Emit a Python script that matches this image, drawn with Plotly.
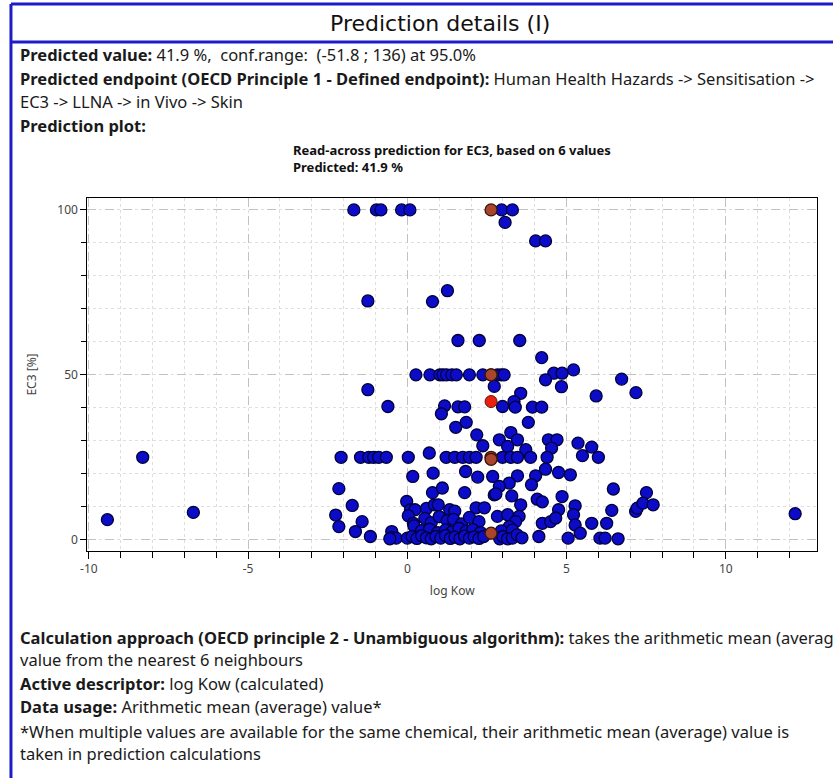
import plotly.graph_objects as go

# ---- data -------------------------------------------------------------
# training-set chemicals: log Kow (calculated) and EC3 [%]
log_kow = [
    # EC3 = 100 and high values
    -1.68, -0.97, -0.83, -0.18, 0.08, 2.96, 3.30, 3.07, 4.03, 4.34,
    # 55 - 75
    -1.24, 0.79, 1.26, 1.59, 2.26, 3.53, 4.22,
    # around 50
    0.27, 0.71, 1.02, 1.12, 1.23, 1.40, 1.54, 1.95, 2.37, 2.83, 2.95, 3.04, 4.60, 4.86, 5.22,
    # 40 - 49
    4.34, 4.84, 6.73, 7.18, 5.93, 2.73, 3.56, -1.24, -0.61,
    1.17, 1.07, 1.59, 1.80, 3.35, 2.99, 3.39, 3.93, 4.22,
    # 27 - 37
    1.52, 1.85, 2.18, 2.37, 3.80, 3.25, 2.89, 3.46, 3.15, 3.72, 4.43, 4.70, 4.53, 5.36, 5.79,
    # around 25
    -8.31, -2.08, -1.47, -1.21, -1.06, -0.90, -0.66, 0.03, 0.69, 1.22, 1.49, 1.74, 1.95, 2.16,
    2.99, 3.25, 3.46, 3.87, 4.39, 5.50, 6.00,
    # 17 - 22
    0.17, 0.81, 1.83, 2.21, 2.68, 3.46, 4.03, 4.34, 4.75, 5.12, 3.20,
    # 13 - 17
    -2.15, 0.79, 1.10, 1.80, 2.73, 2.89, 3.90, 3.28, 2.78, 4.86, 6.47, 7.51,
    # 8 - 12
    -9.42, -6.72, -1.73, -0.02, 0.10, 0.24, 0.60, 0.85, 0.97, 1.33, 1.49, 2.16, 2.42, 3.56,
    4.08, 4.24, 5.27, 4.75, 6.42, 7.17, 7.22, 7.40, 7.72, 12.18,
    # 4 - 8
    -2.25, -1.42, -2.15, 0.03, 0.19, 0.21, 0.55, 0.75, 1.00, 1.25, 1.45, 1.70, 1.95, 2.25,
    2.83, 3.15, 3.51, 3.40, 5.22, 4.24, 4.50, 4.66, 5.79, 6.26, 3.20, 5.27,
    # 2 - 4
    -1.63, -0.49, 0.45, 0.70, 0.95, 1.20, 1.40, 1.62, 1.85, 2.05, 2.30, 2.95, 3.30, 5.43,
    # 0 - 2
    -1.16, -0.49, -0.35, -0.55, 0.00, 0.15, 0.30, 0.45, 0.60, 0.75, 0.90, 1.05, 1.20, 1.35,
    1.50, 1.65, 1.80, 1.95, 2.10, 2.25, 2.40, 2.90, 3.00, 3.15, 3.30, 3.45, 3.60,
    4.13, 5.05, 6.05, 6.21, 6.62,
]
ec3 = [
    100, 100, 100, 100, 100, 100, 100, 96.2, 90.6, 90.6,
    72.4, 72.2, 75.5, 60.4, 60.4, 60.4, 55.2,
    50, 50, 50, 50, 50, 50, 50, 50, 50, 50, 50, 50, 50.5, 50.5, 51.5,
    48.5, 46.4, 48.7, 44.6, 43.6, 46.5, 44.4, 45.5, 40.4,
    40.6, 38.2, 40.3, 40.3, 41.9, 40.4, 40.2, 40.2, 40.2,
    34.1, 35.6, 31.8, 28.5, 35.6, 32.5, 30.3, 30.3, 28.3, 27.3, 30.3, 30.3, 27.8, 29.3, 28.1,
    25, 25, 25, 25, 25, 25, 25, 25, 26.3, 25, 25, 25, 25, 25,
    25, 25, 25, 25, 25, 25.5, 25,
    19.2, 20.2, 20.7, 19.0, 19.2, 19.4, 19.4, 21.4, 20.4, 19.7, 17.2,
    15.5, 14.3, 15.7, 14.3, 13.6, 16.2, 16.7, 13.3, 13.9, 13.1, 15.4, 14.3,
    6.1, 8.3, 10.4, 11.6, 9.1, 9.1, 9.5, 10.6, 10.6, 9.1, 8.7, 9.7, 9.7, 10.6,
    12.3, 11.5, 10.3, 9.1, 8.9, 8.6, 9.6, 11.1, 10.6, 7.9,
    7.5, 5.5, 4.0, 7.3, 5.0, 4.2, 6.5, 5.2, 7.0, 5.8, 6.2, 4.8, 6.8, 5.5,
    7.1, 7.6, 7.1, 5.5, 7.6, 5.0, 5.5, 6.6, 5.0, 5.0, 4.0, 4.5,
    2.5, 2.5, 2.8, 3.2, 2.2, 3.0, 2.4, 3.5, 2.6, 3.1, 2.2, 2.7, 3.0, 2.0,
    1.0, 0.7, 0.5, 0.3, 0.5, 1.0, 0.4, 1.2, 0.6, 0.3, 1.0, 0.5, 1.3, 0.4,
    0.8, 0.3, 1.1, 0.5, 0.9, 0.4, 1.0, 0.3, 1.0, 0.3, 0.5, 1.5, 0.6,
    1.0, 0.5, 0.5, 0.5, 0.3,
]

# the 6 nearest neighbours of the target chemical
neigh_log_kow = [2.63, 2.63, 2.63, 2.63, 2.63, 2.63]
neigh_ec3 = [100, 50, 50, 25, 24.4, 2.0]

# target chemical and its read-across prediction
target_log_kow = 2.63
predicted = 41.9
conf_low, conf_high, conf_level = -51.8, 136, 95.0

x_ticks = [-10, -5, 0, 5, 10]
y_ticks = [0, 50, 100]

# ---- page geometry (pixels) --------------------------------------------
W, H = 833, 778
PLOT_L, PLOT_R, PLOT_T, PLOT_B = 81, 817, 198, 551


def px(x):
    return x / W


def py(y):
    return 1 - y / H


BLUE_BORDER = "#1c1cc8"
HEAD_FONT = "DejaVu Sans, sans-serif"
TXT_FONT = "Noto Sans, DejaVu Sans, sans-serif"
CH_FONT = "Noto Sans, DejaVu Sans, sans-serif"

fig = go.Figure()

fig.add_trace(go.Scatter(
    x=log_kow, y=ec3, mode="markers",
    marker=dict(size=12, color="#0c0cc8",
                line=dict(color="#00003c", width=1.3)),
    hoverinfo="x+y", showlegend=False,
))
fig.add_trace(go.Scatter(
    x=neigh_log_kow, y=neigh_ec3, mode="markers",
    marker=dict(size=12, color="#a8452c", line=dict(color="#3a1408", width=1.3)),
    showlegend=False,
))
fig.add_trace(go.Scatter(
    x=[target_log_kow], y=[predicted], mode="markers",
    marker=dict(size=12, color="#e8200e", line=dict(color="#6a1005", width=1)),
    showlegend=False,
))

grid_major = "#c2c2c2"
grid_minor = "#dedede"

fig.update_xaxes(
    domain=[px(PLOT_L), px(PLOT_R)], range=[-10.05, 12.87],
    tickvals=x_ticks, ticktext=[str(v) for v in x_ticks],
    ticks="outside", ticklen=7, tickwidth=1, tickcolor="#000",
    showline=True, linecolor="#000", linewidth=1, mirror=True,
    showgrid=True, gridcolor=grid_major, griddash="dash", gridwidth=1,
    zeroline=False,
    minor=dict(dtick=1, tick0=0, ticks="outside", ticklen=6, tickcolor="#000",
               showgrid=True, gridcolor=grid_minor, griddash="dot"),
    tickfont=dict(family=CH_FONT, size=12, color="#444"),
    title=dict(text="log Kow", font=dict(family=CH_FONT, size=12, color="#444"),
               standoff=10),
)
fig.update_yaxes(
    domain=[py(PLOT_B), py(PLOT_T)], range=[-3.4, 103.6],
    tickvals=y_ticks, ticktext=[str(v) for v in y_ticks],
    ticks="outside", ticklen=6, tickwidth=1, tickcolor="#000",
    showline=True, linecolor="#000", linewidth=1, mirror=True,
    showgrid=True, gridcolor=grid_major, griddash="dash", gridwidth=1,
    zeroline=False,
    minor=dict(dtick=10, tick0=0, ticks="outside", ticklen=5, tickcolor="#000",
               showgrid=True, gridcolor=grid_minor, griddash="dot"),
    tickfont=dict(family=CH_FONT, size=12, color="#444"),
    title=dict(text="EC3 [%]", font=dict(family=CH_FONT, size=12, color="#444"),
               standoff=18),
)

# chart heading
fig.add_annotation(
    x=px((PLOT_L + PLOT_R) / 2), y=py(159), xref="paper", yref="paper",
    xanchor="center", yanchor="middle", align="left", showarrow=False,
    text=(f"<b>Read-across prediction for EC3, based on {len(neigh_ec3)} values</b><br>"
          f"<b>Predicted: {predicted} %</b>"),
    font=dict(family=CH_FONT, size=13, color="#111"),
)

# document frame
shapes = [
    dict(type="line", xref="paper", yref="paper", x0=px(4), x1=1.0, y0=py(4), y1=py(4),
         line=dict(color=BLUE_BORDER, width=3)),
    dict(type="line", xref="paper", yref="paper", x0=px(4), x1=1.0, y0=py(42), y1=py(42),
         line=dict(color=BLUE_BORDER, width=3)),
    dict(type="line", xref="paper", yref="paper", x0=px(4), x1=px(4), y0=py(4), y1=0,
         line=dict(color=BLUE_BORDER, width=3)),
]
fig.update_layout(shapes=shapes)

fig.add_annotation(
    x=px(437), y=py(23), xref="paper", yref="paper", showarrow=False,
    xanchor="center", yanchor="middle", text="Prediction details (I)",
    font=dict(family=HEAD_FONT, size=22, color="#111"),
)

NB = "\u00a0"
doc_lines = [
    (55, f"<b>Predicted value:</b> {predicted} %,{NB} conf.range:{NB} ({conf_low} ; {conf_high}) at {conf_level}%"),
    (79, "<b>Predicted endpoint (OECD Principle 1 - Defined endpoint):</b> Human Health Hazards -> Sensitisation ->"),
    (102, "EC3 -> LLNA -> in Vivo -> Skin"),
    (126, "<b>Prediction plot:</b>"),
    (637, f"<b>Calculation approach (OECD principle 2 - Unambiguous algorithm):</b> takes the arithmetic mean (average)"),
    (659, f"value from the nearest {len(neigh_ec3)} neighbours"),
    (683, "<b>Active descriptor:</b> log Kow (calculated)"),
    (706, "<b>Data usage:</b> Arithmetic mean (average) value*"),
    (731, "*When multiple values are available for the same chemical, their arithmetic mean (average) value is"),
    (753, "taken in prediction calculations"),
]
for yy, txt in doc_lines:
    fig.add_annotation(
        x=px(11), y=py(yy), xref="paper", yref="paper", showarrow=False,
        xanchor="left", yanchor="middle", align="left", text=txt,
        font=dict(family=TXT_FONT, size=16.5, color="#1a1a1a"),
    )

fig.update_layout(
    width=W, height=H, margin=dict(l=0, r=0, t=0, b=0),
    paper_bgcolor="white", plot_bgcolor="white", showlegend=False,
)

fig.write_html("out.html")
